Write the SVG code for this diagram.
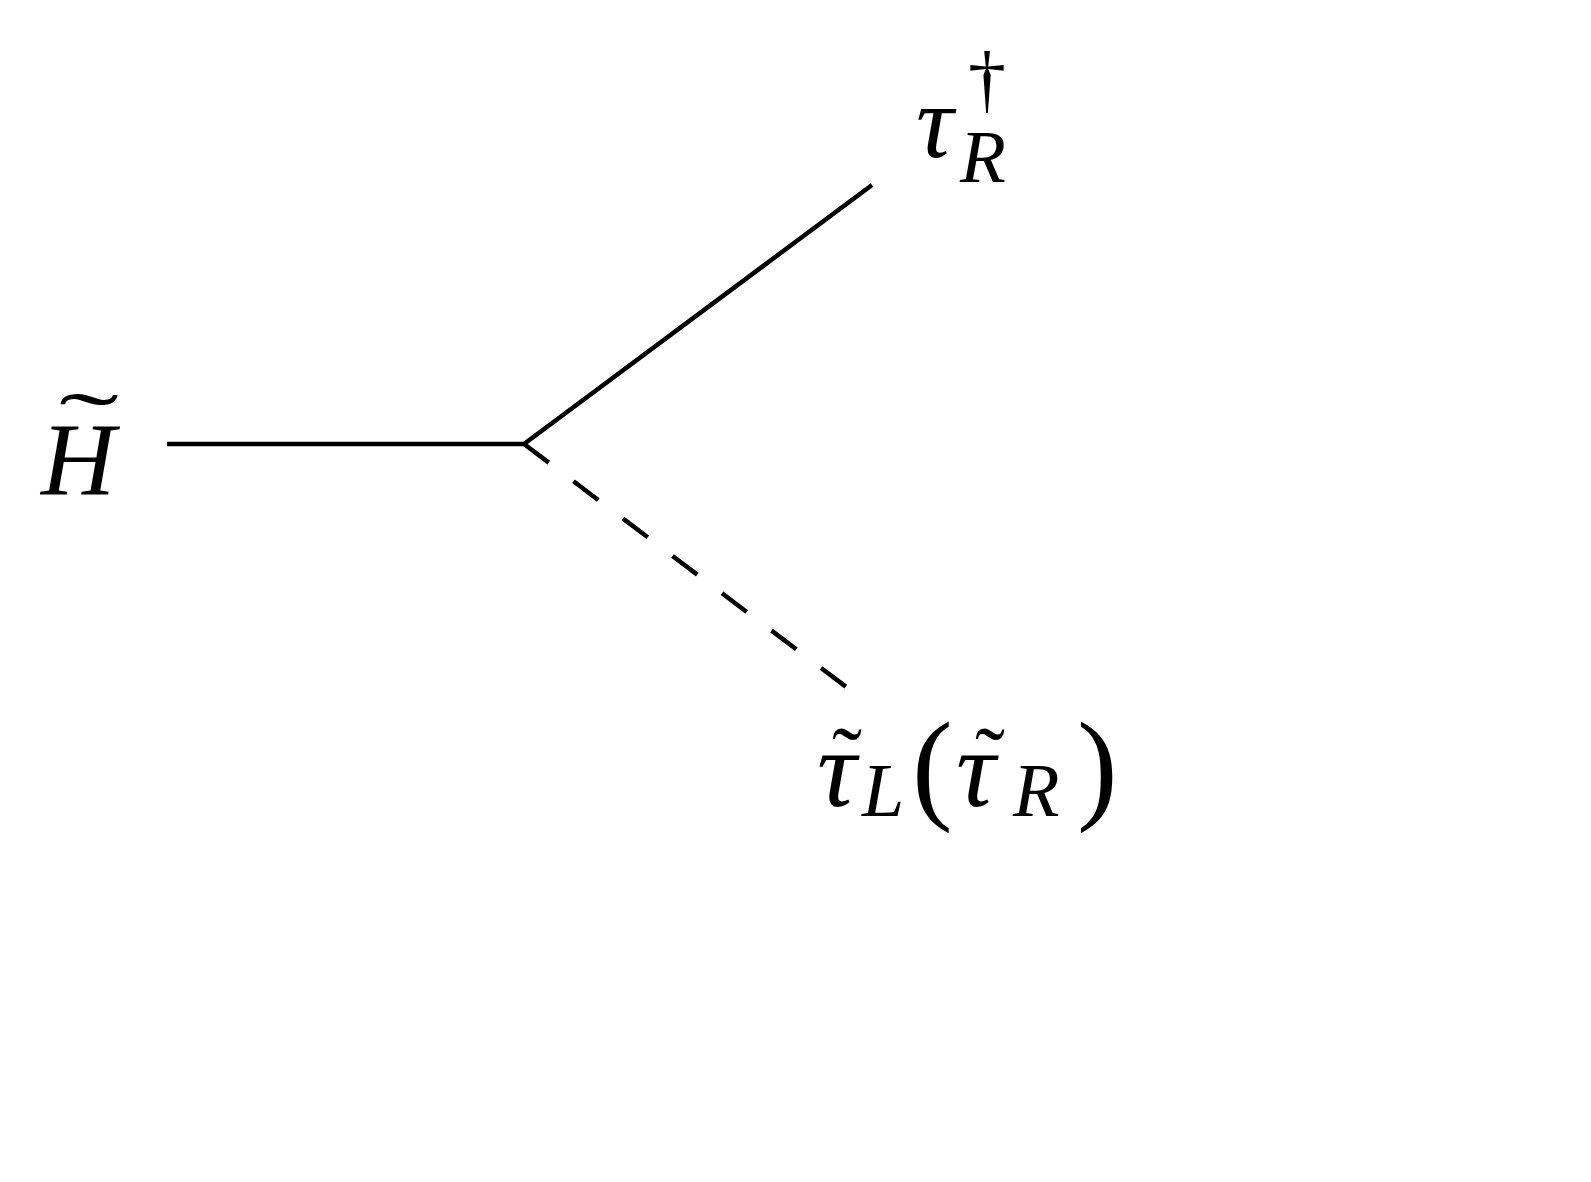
<svg xmlns="http://www.w3.org/2000/svg" width="1591" height="1182" viewBox="0 0 1591 1182">
<style>
.ln{stroke:#000;stroke-width:4.5;fill:none;stroke-linecap:butt}
.dash{stroke-dasharray:31 31}
.m{font-family:"Liberation Serif","DejaVu Serif",serif;font-style:italic;fill:#000}
.u{font-style:normal}
</style>
<rect width="1591" height="1182" fill="#fff"/>
<g id="connectors">
<line class="ln" x1="167" y1="444" x2="524" y2="444"/>
<line class="ln" x1="524" y1="444" x2="872" y2="185"/>
<line class="ln dash" x1="524" y1="444" x2="849" y2="689"/>
</g>
<g id="node-H">
<text class="m" x="41" y="495" font-size="103">H</text>
<text class="m u" font-size="90" transform="translate(59,451) scale(2.0,0.95)">˜</text>
</g>
<g id="node-tauR">
<text class="m" font-size="104"><tspan x="916" y="157">τ</tspan><tspan x="960" y="182" font-size="75">R</tspan><tspan class="u" x="968" y="104" font-size="76">†</tspan></text>
</g>
<g id="node-stau">
<text class="m" font-size="110"><tspan class="u" x="832" y="790" font-size="90">˜</tspan><tspan x="817" y="806">τ</tspan><tspan x="862" y="816" font-size="76">L</tspan><tspan class="u" x="912" y="807" font-size="122">(</tspan><tspan class="u" x="975" y="790" font-size="90">˜</tspan><tspan x="956" y="806">τ</tspan><tspan x="1013" y="816" font-size="76">R</tspan><tspan class="u" x="1077" y="807" font-size="122">)</tspan></text>
</g>
</svg>
